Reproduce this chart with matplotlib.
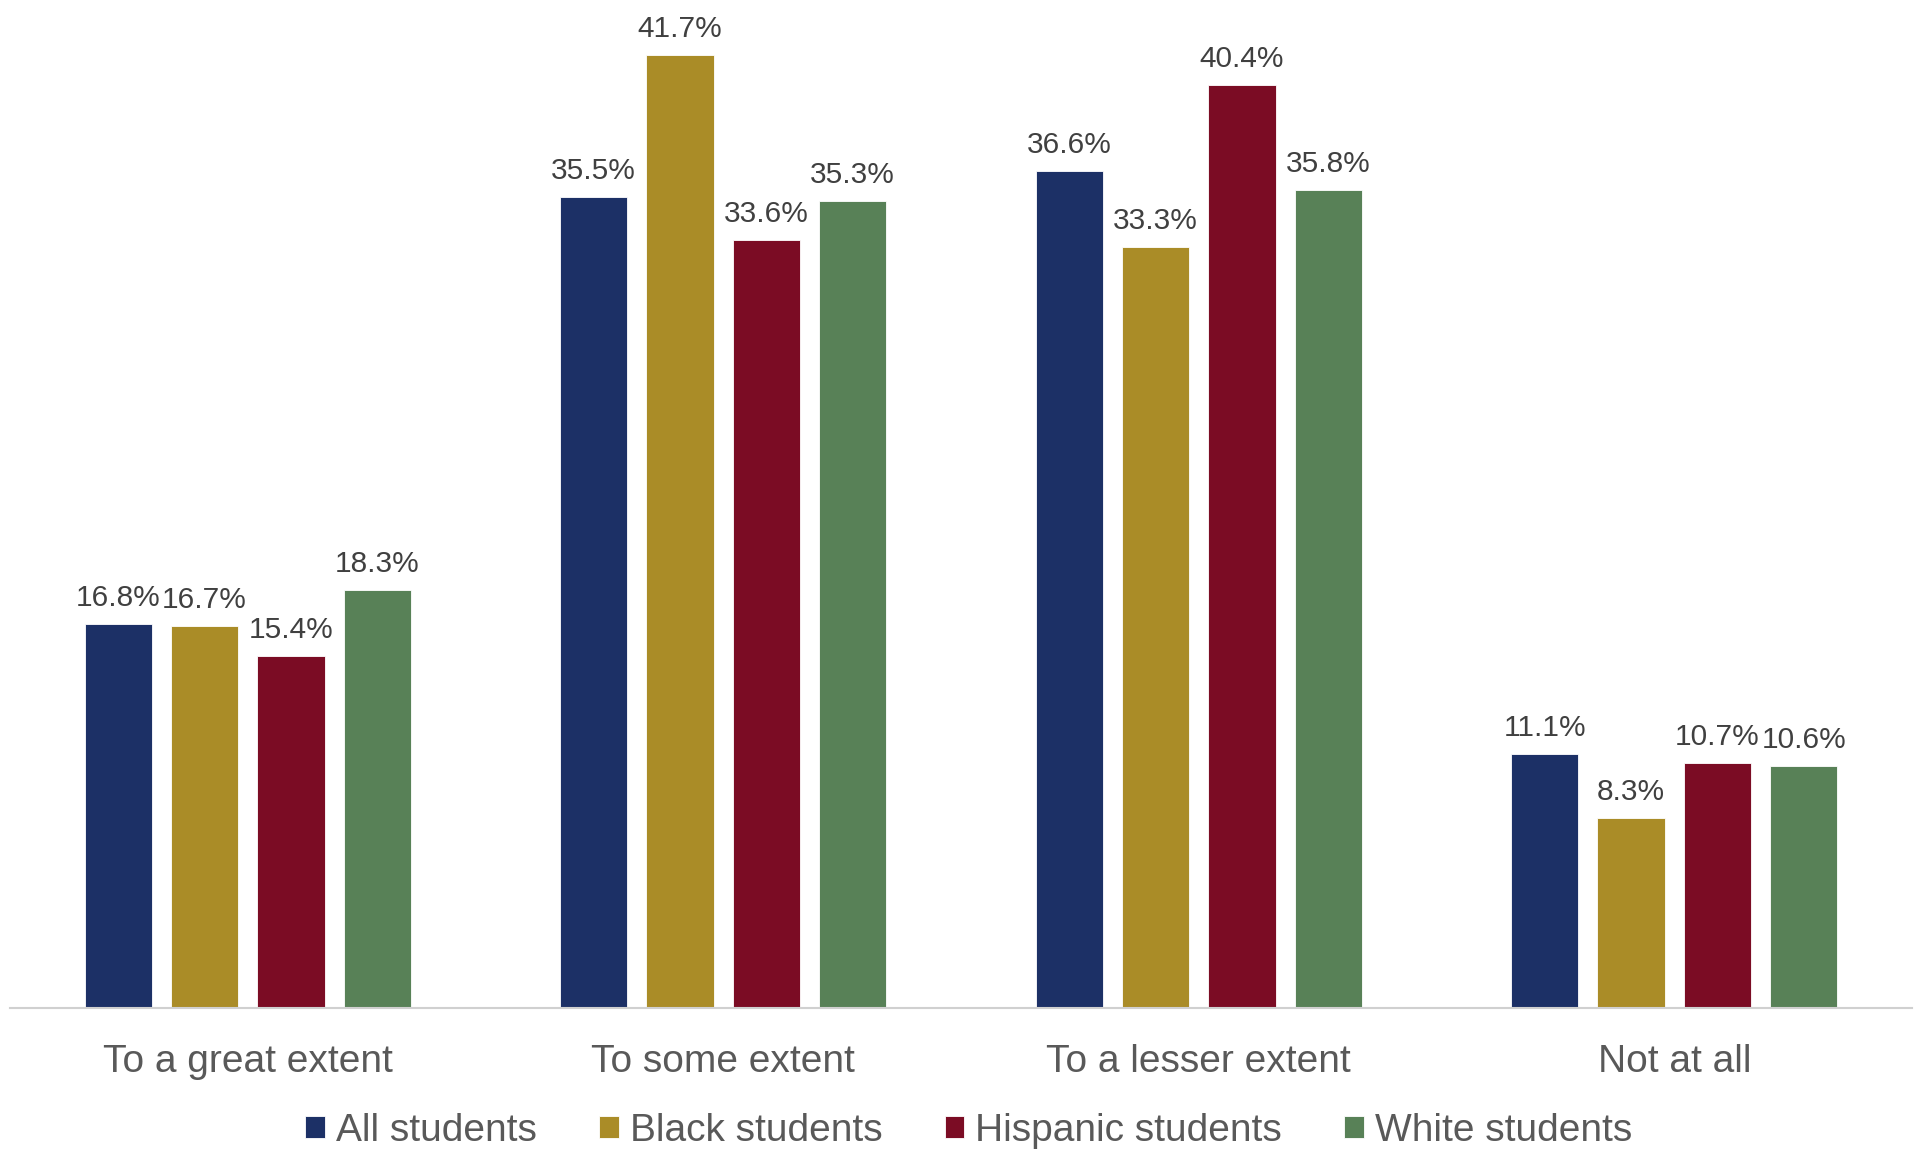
import matplotlib
matplotlib.use("Agg")
import matplotlib.pyplot as plt
import numpy as np

# data
categories = ["To a great extent", "To some extent", "To a lesser extent", "Not at all"]
series = ["All students", "Black students", "Hispanic students", "White students"]
all_students = [16.8, 35.5, 36.6, 11.1]
black_students = [16.7, 41.7, 33.3, 8.3]
hispanic_students = [15.4, 33.6, 40.4, 10.7]
white_students = [18.3, 35.3, 35.8, 10.6]
colors = ["#1C3066", "#AA8C27", "#7B0C24", "#588157"]

plt.rcParams['font.family'] = ['Liberation Sans', 'DejaVu Sans']

fig = plt.figure(figsize=(19.19, 11.51), dpi=100)
ax = fig.add_axes([10/1919, 1 - 1008/1151, 1902/1919, 1008/1151])

x = np.arange(len(categories))
width = 0.1416
pitch = 0.1815
vals = [all_students, black_students, hispanic_students, white_students]
for i, (name, v) in enumerate(zip(series, vals)):
    pos = x + (i - 1.5) * pitch
    bars = ax.bar(pos, v, width, color=colors[i], label=name,
                  edgecolor='white', linewidth=0.6)
    for xx, yy in zip(pos, v):
        ax.annotate(f"{yy:.1f}%", (xx, yy), xytext=(0, 13), textcoords='offset points',
                    ha='center', va='baseline', fontsize=21.5, color='#404040')

ax.set_xlim(-0.5, 3.5)
ax.set_ylim(0, 44.1)
ax.set_yticks([])
ax.set_xticks(x)
ax.set_xticklabels(categories, fontsize=28, color='#595959')
ax.tick_params(axis='x', length=0, pad=26)
for s in ['top', 'right', 'left']:
    ax.spines[s].set_visible(False)
ax.spines['bottom'].set_color('#D0D0D0')
ax.spines['bottom'].set_linewidth(1.5)

leg = fig.legend(loc='center', bbox_to_anchor=(0.5048, 1 - 1131/1151), ncol=4,
                 frameon=False, fontsize=28, handlelength=0.51, handleheight=0.51,
                 handletextpad=0.28, columnspacing=1.6, borderpad=0)
for t in leg.get_texts():
    t.set_color('#595959')

fig.savefig("out.png", dpi=100)
